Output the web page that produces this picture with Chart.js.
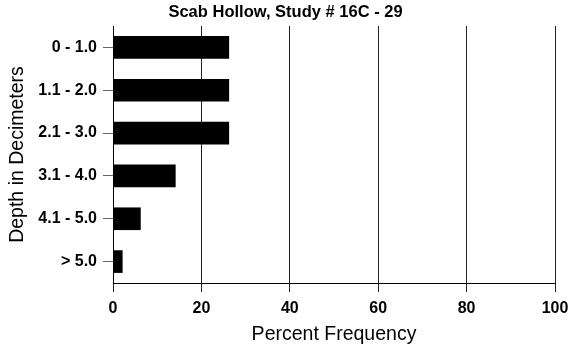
<!DOCTYPE html>
<html>
<head>
<meta charset="utf-8">
<script src="https://cdn.jsdelivr.net/npm/chart.js@4"></script>
<style>
  html, body { margin: 0; padding: 0; background: #fff; }
  #wrap { width: 571px; height: 347px; }
</style>
</head>
<body>
<div id="wrap"><canvas id="chart" width="571" height="347"></canvas></div>
<script>
const depthLabels = ['0 - 1.0', '1.1 - 2.0', '2.1 - 3.0', '3.1 - 4.0', '4.1 - 5.0', '> 5.0'];
const percentValues = [26.2, 26.2, 26.2, 14.1, 6.2, 2.1];
const xTicks = [0, 20, 40, 60, 80, 100];

const ctx = document.getElementById('chart').getContext('2d');

new Chart(ctx, {
  type: 'bar',
  data: {
    labels: depthLabels,
    datasets: [{
      data: percentValues,
      backgroundColor: '#000',
      borderWidth: 0,
      barThickness: 22
    }]
  },
  options: {
    indexAxis: 'y',
    responsive: false,
    animation: false,
    layout: { padding: { left: 0, right: 0, top: 0, bottom: 0 } },
    plugins: {
      legend: { display: false },
      tooltip: { enabled: false },
      title: {
        display: true,
        text: 'Scab Hollow, Study # 16C - 29',
        color: '#000',
        font: { family: 'Arial, "Liberation Sans"', size: 16.5, weight: 'bold' },
        padding: { top: 3, bottom: 3.2 }
      }
    },
    scales: {
      x: {
        type: 'linear',
        min: 0,
        max: 100,
        afterBuildTicks: (scale) => {
          scale.ticks = xTicks.map(v => ({ value: v }));
        },
        afterFit: (scale) => {
          scale.height = 64;
          scale.paddingRight = 16;
        },
        grid: {
          color: '#222',
          lineWidth: 1,
          drawTicks: true,
          tickLength: 9
        },
        border: { display: true, color: '#000', width: 1 },
        ticks: {
          color: '#000',
          padding: 7,
          font: { family: 'Arial, "Liberation Sans"', size: 16, weight: 'bold' }
        },
        title: {
          display: true,
          text: 'Percent Frequency',
          color: '#000',
          font: { family: 'Arial, "Liberation Sans"', size: 19.5 },
          padding: { top: 0, bottom: 1 }
        }
      },
      y: {
        afterFit: (scale) => { scale.width = 113; },
        grid: {
          offset: false,
          drawOnChartArea: false,
          drawTicks: true,
          tickLength: 10,
          color: '#666'
        },
        border: { display: true, color: '#000', width: 1 },
        ticks: {
          color: '#000',
          padding: 6,
          font: { family: 'Arial, "Liberation Sans"', size: 16, weight: 'bold' }
        },
        title: {
          display: true,
          text: 'Depth in Decimeters',
          color: '#000',
          font: { family: 'Arial, "Liberation Sans"', size: 19.5 },
          padding: { top: 6, bottom: 0 }
        }
      }
    }
  }
});
</script>
</body>
</html>
